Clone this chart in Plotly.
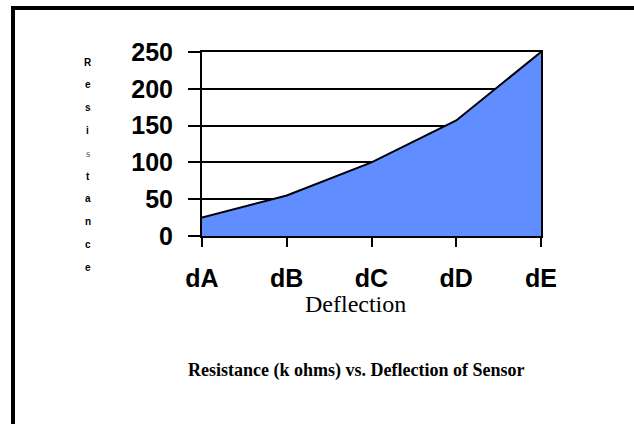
import plotly.graph_objects as go

categories = ["dA", "dB", "dC", "dD", "dE"]
resistance = [25, 55, 100, 157, 250]
y_ticks = [0, 50, 100, 150, 200, 250]
y_title = "Resistance"
x_title = "Deflection"
chart_title = "Resistance (k ohms) vs. Deflection of Sensor"

W, H = 634, 424
# plot area in page pixels: x 202..541, y 52..236
L, R, T, B = 202, 634 - 541, 52, 424 - 236
pw, ph = W - L - R, H - T - B

def px_x(p):
    return (p - L) / pw

def px_y(p):
    return (T + ph - p) / ph

fig = go.Figure()
fig.add_trace(go.Scatter(
    x=list(range(len(categories))), y=resistance,
    mode="lines", fill="tozeroy",
    fillcolor="#608DFF",
    line=dict(color="black", width=2),
    hoverinfo="skip", showlegend=False,
))

annotations = []
for i, ch in enumerate(y_title):
    if i == 4:
        fnt = dict(family="Liberation Serif, Times New Roman", size=11, color="#555555")
    else:
        fnt = dict(family="Liberation Sans, Arial", size=10, color="black", weight="bold")
    annotations.append(dict(
        text=ch, x=px_x(88), y=px_y(62 + i * 22.8), xref="paper", yref="paper",
        showarrow=False, xanchor="center", yanchor="middle", font=fnt,
    ))
annotations.append(dict(
    text=x_title, x=px_x(355), y=px_y(304), xref="paper", yref="paper",
    showarrow=False, xanchor="center", yanchor="middle",
    font=dict(family="Liberation Serif, Times New Roman", size=24, color="black"),
))
annotations.append(dict(
    text="<b>" + chart_title + "</b>", x=px_x(356), y=px_y(370), xref="paper", yref="paper",
    showarrow=False, xanchor="center", yanchor="middle",
    font=dict(family="Liberation Serif, Times New Roman", size=18, color="black"),
))

fig.update_layout(
    width=W, height=H,
    margin=dict(l=L, r=R, t=T, b=B),
    paper_bgcolor="white", plot_bgcolor="white",
    annotations=annotations,
    shapes=[dict(type="rect", xref="paper", yref="paper",
                 x0=px_x(13), x1=px_x(700), y0=px_y(500), y1=px_y(8),
                 line=dict(color="black", width=4), fillcolor="rgba(0,0,0,0)")],
    xaxis=dict(
        range=[0, len(categories) - 1],
        tickmode="array", tickvals=list(range(len(categories))), ticktext=categories,
        showgrid=False, zeroline=False,
        showline=True, linecolor="black", linewidth=2, mirror=True,
        ticks="outside", ticklen=9, tickwidth=2, tickcolor="black",
        ticklabelstandoff=10,
        tickfont=dict(family="Liberation Sans, Arial", size=25, color="black", weight="bold"),
    ),
    yaxis=dict(
        range=[0, 250],
        tickmode="array", tickvals=y_ticks, ticktext=[str(v) for v in y_ticks],
        showgrid=True, gridcolor="black", gridwidth=2,
        zeroline=False,
        showline=True, linecolor="black", linewidth=2, mirror=True,
        ticks="outside", ticklen=12, tickwidth=2, tickcolor="black",
        ticklabelstandoff=10,
        tickfont=dict(family="Liberation Sans, Arial", size=25, color="black", weight="bold"),
    ),
)

fig.write_html(
    "out.html",
    config={"displayModeBar": False, "staticPlot": True},
    post_script="document.body.style.margin='0';document.body.style.overflow='hidden';",
)
